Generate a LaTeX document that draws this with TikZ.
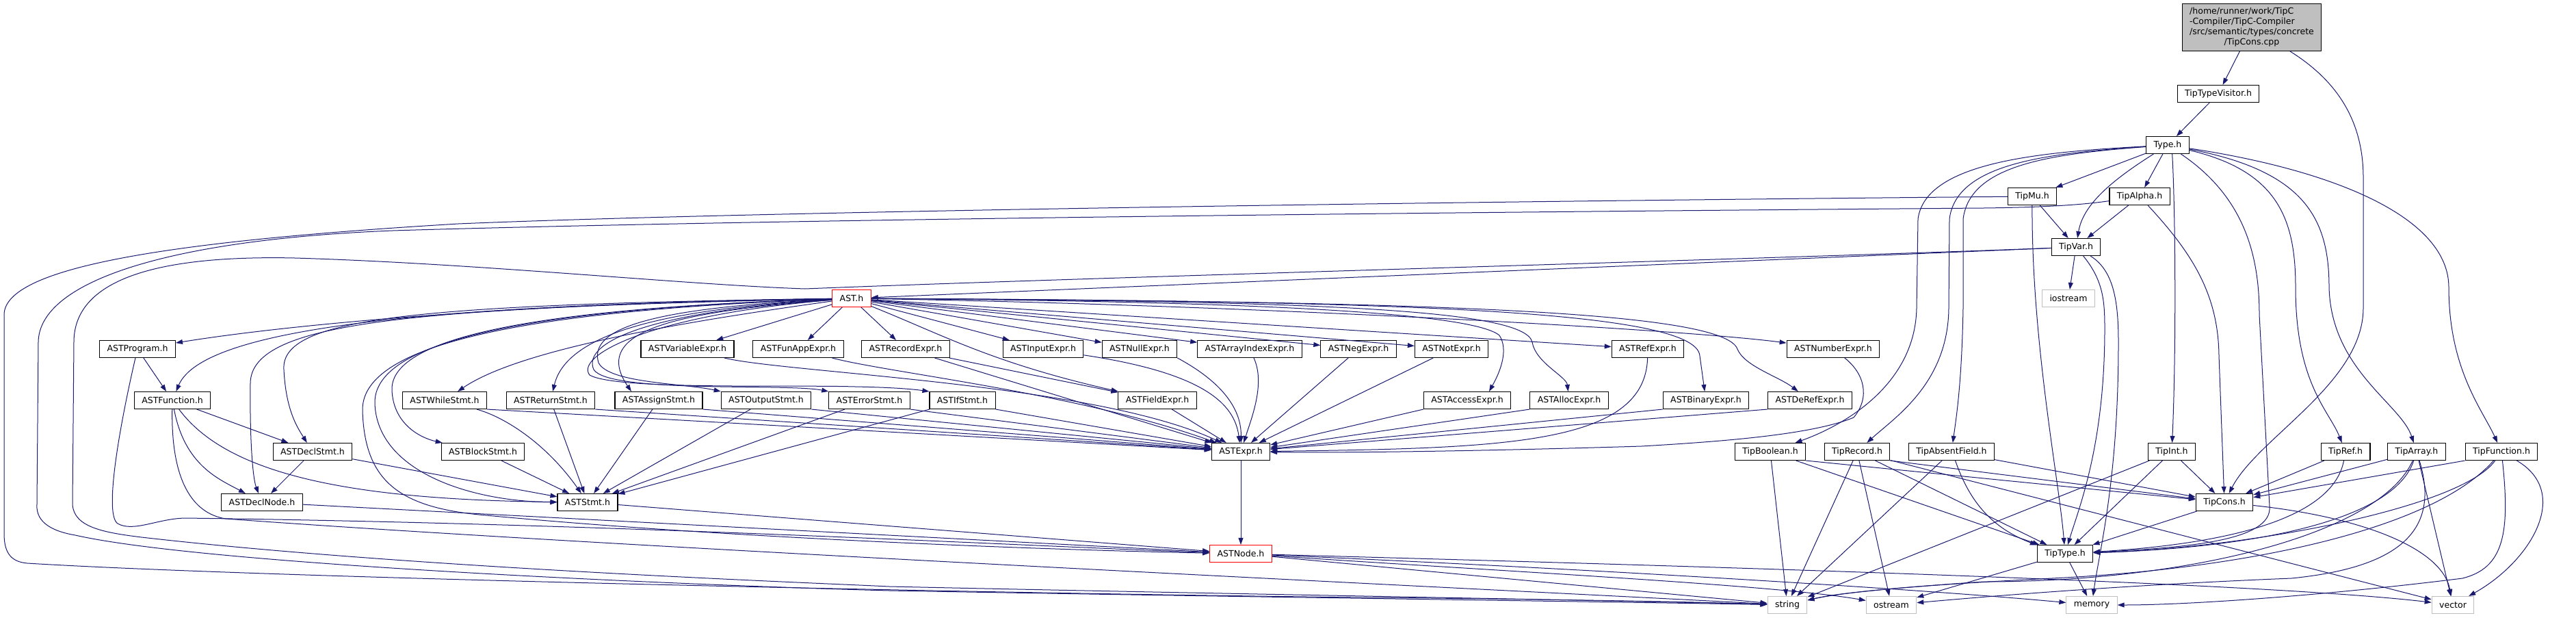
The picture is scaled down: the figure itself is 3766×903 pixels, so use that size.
\documentclass[tikz,border=0pt]{standalone}
\usepackage{fontspec}
\setmainfont{DejaVu Sans}
\usetikzlibrary{arrows.meta}
\definecolor{edgeblue}{HTML}{191970}
\definecolor{sysgray}{HTML}{BFBFBF}
\begin{document}
\begin{tikzpicture}[x=0.75pt, y=-0.75pt,
  file/.style={draw=black, fill=white, line width=0.8pt, inner xsep=8.2pt, inner ysep=0pt,
    minimum height=18.75pt, font=\fontsize{9.4}{11.3}\selectfont},
  sysfile/.style={file, draw=sysgray},
  cutfile/.style={file, draw=red},
  dep/.style={draw=edgeblue, line width=0.75pt, -{Triangle[length=7.5pt,width=5.2pt]}}]

\useasboundingbox (0,0) rectangle (3766,903);

% Fichier source
\node[file, fill=sysgray, inner ysep=3.2pt] (root) at (3292,40)
{\begin{tabular}{@{}l@{}}/home/runner/work/TipC\\-Compiler/TipC-Compiler\\/src/semantic/types/concrete\\\multicolumn{1}{@{}c@{}}{/TipCons.cpp}\end{tabular}};

% Types
\node[file] (visitor) at (3243,137) {TipTypeVisitor.h};
\node[file] (type) at (3169,212) {Type.h};
\node[file] (tipmu) at (2971,287) {TipMu.h};
\node[file] (tipalpha) at (3128,287) {TipAlpha.h};
\node[file] (tipvar) at (3035,361) {TipVar.h};
\node[sysfile] (iostream) at (3024,436) {iostream};
\node[cutfile] (ast) at (1245,436) {AST.h};

% AST, rangee 1
\node[file] (astprogram) at (201,510) {ASTProgram.h};
\node[file] (astvariable) at (1005,510) {ASTVariableExpr.h};
\node[file] (astfunapp) at (1167,510) {ASTFunAppExpr.h};
\node[file] (astrecord) at (1324,510) {ASTRecordExpr.h};
\node[file] (astinput) at (1525,510) {ASTInputExpr.h};
\node[file] (astnull) at (1666,510) {ASTNullExpr.h};
\node[file] (astarrayindex) at (1827,510) {ASTArrayIndexExpr.h};
\node[file] (astneg) at (1986,510) {ASTNegExpr.h};
\node[file] (astnot) at (2122,510) {ASTNotExpr.h};
\node[file] (astref) at (2409,510) {ASTRefExpr.h};
\node[file] (astnumber) at (2680,510) {ASTNumberExpr.h};

% AST, rangee 2
\node[file] (astfunction) at (252,585) {ASTFunction.h};
\node[file] (astwhile) at (650,585) {ASTWhileStmt.h};
\node[file] (astreturn) at (805,585) {ASTReturnStmt.h};
\node[file] (astassign) at (963,585) {ASTAssignStmt.h};
\node[file] (astoutput) at (1120,585) {ASTOutputStmt.h};
\node[file] (asterror) at (1271,585) {ASTErrorStmt.h};
\node[file] (astif) at (1407,585) {ASTIfStmt.h};
\node[file] (astfield) at (1692,585) {ASTFieldExpr.h};
\node[file] (astaccess) at (2145,585) {ASTAccessExpr.h};
\node[file] (astalloc) at (2294,585) {ASTAllocExpr.h};
\node[file] (astbinary) at (2494,585) {ASTBinaryExpr.h};
\node[file] (astderef) at (2646,585) {ASTDeRefExpr.h};

% rangee 3
\node[file] (astdeclstmt) at (457,660) {ASTDeclStmt.h};
\node[file] (astblock) at (706,660) {ASTBlockStmt.h};
\node[file] (astexpr) at (1814,660) {ASTExpr.h};
\node[file] (tipboolean) at (2588,660) {TipBoolean.h};
\node[file] (tiprecord) at (2715,660) {TipRecord.h};
\node[file] (tipabsent) at (2853,660) {TipAbsentField.h};
\node[file] (tipint) at (3175,660) {TipInt.h};
\node[file] (tipref) at (3429,660) {TipRef.h};
\node[file] (tiparray) at (3533,660) {TipArray.h};
\node[file] (tipfunction) at (3657,660) {TipFunction.h};

% rangees 4 et 5
\node[file] (astdeclnode) at (383,734) {ASTDeclNode.h};
\node[file] (aststmt) at (859,734) {ASTStmt.h};
\node[file] (tipcons) at (3252,734) {TipCons.h};
\node[cutfile] (astnode) at (1814,809) {ASTNode.h};
\node[file] (tiptype) at (3019,809) {TipType.h};

% Bibliotheque standard
\node[sysfile] (string) at (2613,884) {string};
\node[sysfile] (ostream) at (2765,884) {ostream};
\node[sysfile] (memory) at (3058,884) {memory};
\node[sysfile] (vector) at (3586,884) {vector};

% Fichier source
\draw[dep] (root) -- (visitor);
\draw[dep] (root) .. controls (3420,120) and (3455,180) .. (3455,260) -- (3455,450) .. controls (3455,560) and (3300,640) .. (tipcons);
\draw[dep] (visitor) -- (type);

% Type.h
\draw[dep] (type) -- (tipmu);
\draw[dep] (type) -- (tipalpha);
\draw[dep] (type) .. controls (3085,265) and (3045,300) .. (tipvar);
\draw[dep] ([xshift=5pt]type.south) .. controls (3180,300) and (3182,500) .. (tipint);
\draw[dep] (type) .. controls (3285,290) and (3303,380) .. (3303,460) -- (3318,740) .. controls (3322,790) and (3200,800) .. (tiptype);
\draw[dep] (type) .. controls (3330,250) and (3356,320) .. (3356,420) .. controls (3356,560) and (3405,600) .. (tipref);
\draw[dep] (type) .. controls (3370,250) and (3405,320) .. (3405,420) .. controls (3408,540) and (3510,590) .. (tiparray);
\draw[dep] (type) .. controls (3420,250) and (3580,320) .. (3580,420) .. controls (3580,540) and (3630,600) .. (tipfunction);
\draw[dep] (type) .. controls (2990,222) and (2815,235) .. (2804,320) -- (2802,450) .. controls (2800,560) and (2700,620) .. (tipboolean);
\draw[dep] (type) .. controls (2995,224) and (2860,238) .. (2850,320) -- (2849,450) .. controls (2848,560) and (2770,610) .. (tiprecord);
\draw[dep] (type) .. controls (3000,225) and (2880,240) .. (2870,320) -- (2870,450) .. controls (2868,560) and (2860,610) .. (tipabsent);

% TipMu, TipAlpha, TipVar
\draw[dep] (tipmu) -- (tipvar);
\draw[dep] (tipalpha) -- (tipvar);
\draw[dep] (tipmu) .. controls (2970,500) and (3010,700) .. (tiptype);
\draw[dep] (tipalpha) .. controls (3205,370) and (3243,430) .. (3244,520) -- (tipcons);
\draw[dep] (tipvar) -- (ast);
\draw[dep] (tipvar) -- (iostream);
\draw[dep] (tipvar) .. controls (3075,410) and (3077,440) .. (3077,480) .. controls (3077,650) and (3040,740) .. (tiptype);
\draw[dep] (tipvar) .. controls (3090,395) and (3097,440) .. (3097,500) .. controls (3097,700) and (3070,800) .. (memory);
\draw[dep] (tipmu) .. controls (2500,291) and (1200,305) .. (670,327) .. controls (250,352) and (6,390) .. (6,460) -- (6,780) .. controls (6,810) and (18,821) .. (40,823) .. controls (400,845) and (1500,868) .. (2000,873) .. controls (2300,876) and (2500,880) .. (string);
\draw[dep] (tipalpha) .. controls (3040,300) and (2980,303) .. (2900,304) .. controls (2400,308) and (1200,318) .. (574,337) .. controls (250,350) and (57,410) .. (56,500) -- (54,737) .. controls (52,765) and (80,777) .. (110,782) .. controls (300,825) and (1000,855) .. (1300,863) .. controls (1800,872) and (2400,880) .. (string);
\draw[dep] (tipvar) .. controls (2600,378) and (1600,405) .. (1177,422) .. controls (1000,416) and (700,385) .. (431,377) .. controls (200,372) and (108,420) .. (108,500) -- (106,737) .. controls (108,770) and (150,778) .. (207,785) .. controls (600,830) and (1200,852) .. (1300,857) .. controls (1800,868) and (2400,878) .. (string);

% AST.h vers la gauche
\draw[dep] (ast) .. controls (800,442) and (450,470) .. (astprogram);
\draw[dep] (ast) .. controls (700,445) and (300,470) .. (astfunction);
\draw[dep] (ast) .. controls (600,445) and (410,465) .. (415,540) .. controls (418,600) and (435,625) .. (astdeclstmt);
\draw[dep] (ast) .. controls (600,450) and (367,470) .. (366,560) .. controls (365,650) and (370,700) .. (astdeclnode);
\draw[dep] (ast) .. controls (800,450) and (570,490) .. (573,570) .. controls (575,620) and (615,640) .. (astblock);
\draw[dep] (ast) .. controls (760,452) and (545,500) .. (548,590) .. controls (552,690) and (690,733) .. (aststmt);
\draw[dep] (ast) .. controls (730,455) and (528,510) .. (530,600) .. controls (533,700) and (580,740) .. (700,752) .. controls (1100,790) and (1600,805) .. (astnode);
\draw[dep] (ast) .. controls (1000,470) and (760,510) .. (astwhile);
\draw[dep] (ast) .. controls (1000,450) and (830,480) .. (astreturn);
\draw[dep] (ast) .. controls (1000,455) and (860,480) .. ([xshift=-30pt]astassign.north);
\draw[dep] (ast) .. controls (950,450) and (860,480) .. (875,530) .. controls (890,560) and (1000,560) .. (astoutput.north west);
\draw[dep] (ast) .. controls (950,455) and (850,500) .. (868,540) .. controls (890,575) and (1150,560) .. (asterror.north west);
\draw[dep] (ast) .. controls (950,460) and (840,520) .. (862,548) .. controls (900,570) and (1150,562) .. (1250,565) .. controls (1300,566) and (1330,568) .. (astif.north west);

% AST.h vers la droite
\draw[dep] (ast) -- (astvariable);
\draw[dep] (ast) -- (astfunapp);
\draw[dep] (ast) -- (astrecord);
\draw[dep] (ast) -- (astinput);
\draw[dep] (ast) -- (astnull);
\draw[dep] (ast) -- (astarrayindex);
\draw[dep] (ast) -- (astneg);
\draw[dep] (ast) -- (astnot);
\draw[dep] (ast) -- (astref);
\draw[dep] (ast) .. controls (1800,445) and (2450,480) .. (astnumber);
\draw[dep] (ast) .. controls (1380,490) and (1450,530) .. (astfield);
\draw[dep] (ast) .. controls (1800,440) and (2150,455) .. (2192,490) .. controls (2205,510) and (2195,540) .. ([xshift=24pt]astaccess.north);
\draw[dep] (ast) .. controls (1900,440) and (2230,450) .. (2240,500) .. controls (2245,530) and (2290,550) .. (astalloc);
\draw[dep] (ast) .. controls (2000,440) and (2480,450) .. (2485,520) -- (astbinary);
\draw[dep] (ast) .. controls (2100,440) and (2520,455) .. (2540,510) .. controls (2550,535) and (2600,550) .. (astderef);

% Expressions
\draw[dep] (astvariable) .. controls (1150,545) and (1600,560) .. (astexpr);
\draw[dep] (astfunapp) .. controls (1300,545) and (1580,575) .. (astexpr);
\draw[dep] (astrecord) -- (astexpr);
\draw[dep] (astrecord) -- (astfield);
\draw[dep] (astinput) .. controls (1760,545) and (1805,590) .. (astexpr);
\draw[dep] (astnull.south east) .. controls (1790,560) and (1815,600) .. (astexpr);
\draw[dep] (astarrayindex) .. controls (1850,560) and (1830,610) .. (astexpr);
\draw[dep] (astneg) -- (astexpr);
\draw[dep] (astnot) -- (astexpr);
\draw[dep] (astref) .. controls (2405,650) and (2200,655) .. (astexpr);
\draw[dep] (astnumber) .. controls (2725,545) and (2735,580) .. (2710,610) .. controls (2650,635) and (2520,645) .. (2400,652) .. controls (2200,658) and (2000,662) .. (astexpr);
\draw[dep] (astfield) -- (astexpr);
\draw[dep] (astaccess.south west) -- (astexpr);
\draw[dep] (astalloc.south west) -- (astexpr);
\draw[dep] (astbinary.south west) -- (astexpr);
\draw[dep] (astderef.south west) -- (astexpr);

% Instructions
\draw[dep] (astwhile.south east) -- (astexpr);
\draw[dep] (astreturn.south east) -- (astexpr);
\draw[dep] (astassign.south east) -- (astexpr);
\draw[dep] (astoutput.south east) -- (astexpr);
\draw[dep] (asterror.south east) -- (astexpr);
\draw[dep] (astif.south east) -- (astexpr);
\draw[dep] (astwhile) .. controls (740,610) and (800,650) .. (aststmt);
\draw[dep] (astreturn) -- (aststmt);
\draw[dep] (astassign) -- (aststmt);
\draw[dep] (astoutput) -- (aststmt);
\draw[dep] (asterror) -- (aststmt);
\draw[dep] (astif) -- (aststmt);
\draw[dep] (astblock) -- (aststmt);

% Programme et fonctions
\draw[dep] (astprogram) -- (astfunction);
\draw[dep] (astprogram) .. controls (180,600) and (150,750) .. (172,765) .. controls (195,778) and (230,758) .. (270,757) .. controls (900,765) and (1500,798) .. (astnode);
\draw[dep] (astfunction) -- (astdeclstmt);
\draw[dep] (astfunction) .. controls (270,680) and (320,700) .. (astdeclnode);
\draw[dep] (astfunction) .. controls (330,690) and (500,730) .. (aststmt);
\draw[dep] (astfunction) .. controls (250,700) and (280,750) .. (330,758) .. controls (900,800) and (2200,862) .. (string);
\draw[dep] (astdeclstmt) -- (astdeclnode);
\draw[dep] (astdeclstmt) -- (aststmt);
\draw[dep] (astdeclnode) -- (astnode);
\draw[dep] (aststmt) -- (astnode);
\draw[dep] (astexpr) -- (astnode);

% ASTNode.h
\draw[dep] (astnode) -- (string);
\draw[dep] (astnode) .. controls (2200,835) and (2600,855) .. (ostream);
\draw[dep] (astnode) .. controls (2300,830) and (2800,860) .. (memory);
\draw[dep] (astnode) .. controls (2400,825) and (3300,850) .. (vector);

% Types concrets
\draw[dep] (tipboolean) -- (string);
\draw[dep] (tipboolean) -- (tiptype);
\draw[dep] (tipboolean.south east) -- (tipcons);
\draw[dep] (tiprecord) -- (string);
\draw[dep] (tiprecord) -- (ostream);
\draw[dep] (tiprecord) -- (tiptype);
\draw[dep] (tiprecord) -- (vector);
\draw[dep] (tiprecord.south east) -- (tipcons);
\draw[dep] (tipabsent) -- (string);
\draw[dep] (tipabsent) to[bend right=25] (tiptype);
\draw[dep] (tipabsent) -- (tipcons);
\draw[dep] (tipint) -- (string);
\draw[dep] (tipint) -- (tiptype);
\draw[dep] (tipint) -- (tipcons);
\draw[dep] (tipref) -- (tipcons);
\draw[dep] (tipref) .. controls (3410,760) and (3250,795) .. (tiptype);
\draw[dep] (tiparray) -- (tipcons);
\draw[dep] (tiparray) .. controls (3500,760) and (3300,800) .. (tiptype);
\draw[dep] (tiparray) .. controls (3480,780) and (3200,850) .. (2900,850) .. controls (2750,860) and (2680,868) .. (string);
\draw[dep] (tiparray) .. controls (3570,780) and (3500,830) .. (3350,845) .. controls (3100,855) and (2900,872) .. (ostream);
\draw[dep] (tiparray) -- (vector);
\draw[dep] (tipfunction.south west) -- (tipcons);
\draw[dep] (tipfunction) .. controls (3600,740) and (3300,800) .. (tiptype);
\draw[dep] (tipfunction) .. controls (3560,770) and (3300,830) .. (3000,845) .. controls (2800,855) and (2690,866) .. (string);
\draw[dep] (tipfunction) .. controls (3670,780) and (3660,830) .. (3600,845) .. controls (3400,870) and (3200,884) .. (memory);
\draw[dep] (tipfunction) .. controls (3760,720) and (3700,820) .. (vector);
\draw[dep] (tipcons) -- (tiptype);
\draw[dep] (tipcons) .. controls (3450,755) and (3570,800) .. (vector);
\draw[dep] (tiptype) -- (ostream);
\draw[dep] (tiptype) -- (memory);

\end{tikzpicture}
\end{document}
